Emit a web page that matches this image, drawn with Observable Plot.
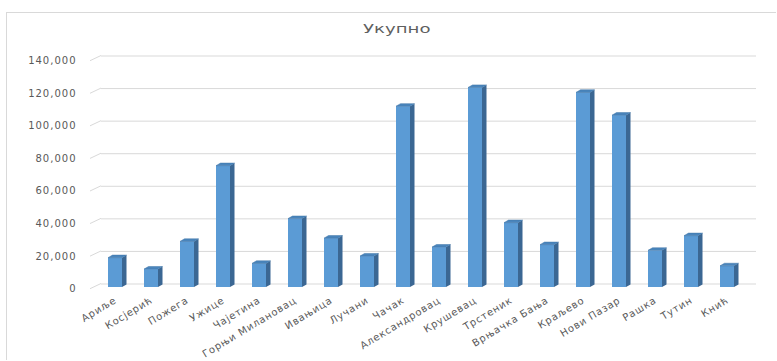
<!DOCTYPE html>
<html>
<head>
<meta charset="utf-8">
<script src="https://cdn.jsdelivr.net/npm/d3@7"></script>
<script src="https://cdn.jsdelivr.net/npm/@observablehq/plot@0.6"></script>
<style>
  html, body { margin: 0; padding: 0; background: #fff; overflow: hidden; }
  #wrap { position: relative; width: 777px; height: 361px; }
  #frame { position: absolute; left: 6px; top: 12px; width: 769px; height: 347px; border-left: 1px solid #d9d9d9; border-top: 1px solid #d9d9d9; }
  #title { position: absolute; left: 0; width: 777px; top: 21px; text-align: center;
           font-family: "DejaVu Sans", sans-serif; font-size: 12.5px; color: #5f5f5f;
           transform: translateX(8px) scaleX(1.45); transform-origin: 388px 0; }
  #chart { position: absolute; left: 0; top: 0; }
  #chart text { letter-spacing: 1px; }
  #chart g[aria-label="x-axis tick label"] text { letter-spacing: 0.75px; }
</style>
</head>
<body>
<div id="wrap">
  <div id="frame"></div>
  <div id="title">Укупно</div>
  <div id="chart"></div>
</div>
<script>
const categories = ["Ариље", "Косјерић", "Пожега", "Ужице", "Чајетина", "Горњи Милановац", "Ивањица", "Лучани", "Чачак", "Александровац", "Крушевац", "Трстеник", "Врњачка Бања", "Краљево", "Нови Пазар", "Рашка", "Тутин", "Кнић"];
const values = [18000, 11000, 28000, 74500, 14500, 42000, 30000, 19000, 111000, 24500, 122500, 39500, 26000, 119500, 105500, 22500, 31500, 13000];
const yTicks = [0, 20000, 40000, 60000, 80000, 100000, 120000, 140000];

const data = categories.map((name, i) => ({name, value: values[i]}));

const DX = 4.5, DY = -2.6;      // 3D depth of bars (px)
const GX = 11, GFRONT = 1.7, GBACK = -3.5; // gridline perspective

function faces(index, scales) {
  const x = scales.x, y = scales.y;
  const bw = x.bandwidth ? x.bandwidth() : 14;
  const g = d3.create("svg:g");
  for (const d of data) {
    const x1 = x(d.name), x2 = x1 + bw, y0 = y(0), yv = y(d.value);
    g.append("polygon")
      .attr("points", [[x2, y0], [x2 + DX, y0 + DY], [x2 + DX, yv + DY], [x2, yv]].join(" "))
      .attr("fill", "#3b6793");
    g.append("polygon")
      .attr("points", [[x1, yv], [x2, yv], [x2 + DX, yv + DY], [x1 + DX, yv + DY]].join(" "))
      .attr("fill", "#4a85bc")
      .attr("stroke", "#3f74a6").attr("stroke-width", 0.5);
  }
  return g.node();
}

function slants(index, scales, values, dimensions) {
  const y = scales.y;
  const left = dimensions.marginLeft;
  const g = d3.create("svg:g").attr("stroke", "#d9d9d9").attr("fill", "none");
  for (const t of yTicks) {
    g.append("line")
      .attr("x1", left - GX).attr("y1", y(t) + GFRONT)
      .attr("x2", left).attr("y2", y(t) + GBACK);
  }
  return g.node();
}

const chart = Plot.plot({
  width: 777,
  height: 361,
  marginLeft: 101,
  marginRight: 21,
  marginTop: 59,
  marginBottom: 74,
  style: {fontFamily: "DejaVu Sans, sans-serif", color: "#595959", background: "transparent", overflow: "visible"},
  x: {type: "band", domain: categories, range: [94.6, 746.9], paddingInner: 0.614, paddingOuter: 0.307, label: null},
  y: {domain: [0, 140000], label: null},
  marks: [
    Plot.ruleY(yTicks, {stroke: "#d9d9d9", dy: GBACK}),
    slants,
    Plot.axisY({ticks: yTicks, tickFormat: d3.format(","), tickSize: 0, tickPadding: 25, fontSize: 10, dy: 1.5, fill: "#595959", label: null}),
    Plot.axisX({tickRotate: -31, tickSize: 0, tickPadding: 12, fontSize: 10, fill: "#595959", label: null}),
    Plot.barY(data, {x: "name", y: "value", fill: "#5b9bd5"}),
    faces
  ]
});
document.getElementById("chart").appendChild(chart);
</script>
</body>
</html>
